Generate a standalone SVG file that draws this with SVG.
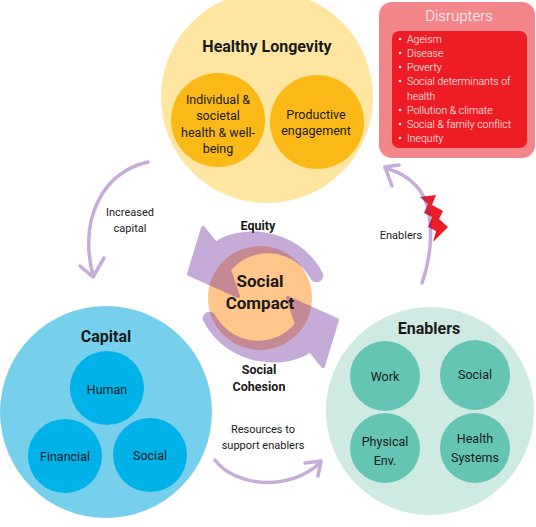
<svg xmlns="http://www.w3.org/2000/svg" width="536" height="527" viewBox="0 0 536 527">
<style>
text{font-family:Roboto,"Liberation Sans",sans-serif;fill:#1a1a1a;text-anchor:middle;dominant-baseline:central}
.title{font-weight:700;font-size:16px}
.mid{font-weight:700;font-size:12.5px}
.big{font-weight:700;font-size:17px}
.lbl{font-size:12.5px}
.small{font-size:11px}
.dis{font-size:10.5px;fill:#fff;text-anchor:start;font-weight:300}
.conn{fill:none;stroke:#7030A0;stroke-opacity:0.4;stroke-width:3.5;stroke-linecap:round;stroke-linejoin:round}
</style>
<rect width="536" height="527" fill="#fff"/>
<g id="healthy-longevity">
<circle cx="267" cy="97" r="106" fill="#FEE6A2"/>
<text class="title" x="267" y="46">Healthy Longevity</text>
<circle cx="218" cy="120" r="47" fill="#FBB917"/>
<text class="lbl" x="218" y="99">Individual &amp;</text>
<text class="lbl" x="218" y="115">societal</text>
<text class="lbl" x="218" y="132">health &amp; well-</text>
<text class="lbl" x="218" y="148">being</text>
<circle cx="317" cy="122" r="47" fill="#FBB917"/>
<text class="lbl" x="316" y="114">Productive</text>
<text class="lbl" x="316" y="130">engagement</text>
</g>
<g id="disrupters">
<rect x="379" y="2" width="156" height="156" rx="13" fill="#F3868A"/>
<text x="459" y="16" style="fill:#fff;font-size:15px;font-weight:300">Disrupters</text>
<rect x="392" y="31" width="135" height="117" rx="7" fill="#EE1C25"/>
<g fill="#fff">
<circle cx="400" cy="39" r="1.2"/><circle cx="400" cy="53" r="1.2"/><circle cx="400" cy="67" r="1.2"/><circle cx="400" cy="81" r="1.2"/><circle cx="400" cy="110" r="1.2"/><circle cx="400" cy="124" r="1.2"/><circle cx="400" cy="138" r="1.2"/>
</g>
<text class="dis" x="407" y="39">Ageism</text>
<text class="dis" x="407" y="53">Disease</text>
<text class="dis" x="407" y="67">Poverty</text>
<text class="dis" x="407" y="81">Social determinants of</text>
<text class="dis" x="407" y="96">health</text>
<text class="dis" x="407" y="110">Pollution &amp; climate</text>
<text class="dis" x="407" y="124">Social &amp; family conflict</text>
<text class="dis" x="407" y="138">Inequity</text>
</g>
<g id="capital">
<circle cx="106" cy="412" r="106" fill="#76CFEB"/>
<text class="title" x="106" y="336">Capital</text>
<circle cx="107" cy="388" r="37" fill="#00B2E7"/>
<text class="lbl" x="107" y="389">Human</text>
<circle cx="65" cy="456" r="37" fill="#00B2E7"/>
<text class="lbl" x="65" y="456">Financial</text>
<circle cx="150" cy="455" r="37" fill="#00B2E7"/>
<text class="lbl" x="150" y="455">Social</text>
</g>
<g id="enablers">
<circle cx="430" cy="411" r="104" fill="#CFEAE2"/>
<text class="title" x="429" y="328">Enablers</text>
<circle cx="385" cy="376" r="35" fill="#65C5B4"/>
<text class="lbl" x="385" y="376">Work</text>
<circle cx="475" cy="375" r="35" fill="#65C5B4"/>
<text class="lbl" x="475" y="374">Social</text>
<circle cx="385" cy="448" r="35" fill="#65C5B4"/>
<text class="lbl" x="385" y="441">Physical</text>
<text class="lbl" x="385" y="460">Env.</text>
<circle cx="475" cy="448" r="35" fill="#65C5B4"/>
<text class="lbl" x="475" y="438">Health</text>
<text class="lbl" x="475" y="457">Systems</text>
</g>
<g id="social-compact">
<circle cx="260" cy="298" r="52" fill="#FFC68C"/>
<g opacity="0.4" fill="#7030A0" stroke="#7030A0" stroke-width="4" stroke-linejoin="round">
<path id="arrow-equity" d="M203,228 L216,244 C235,228 295,225 321,274 A4.5,4.5 0 0 1 312,277 C292,243 248,245 229,270 L238,296 L189,274 Z"/>
<path id="arrow-cohesion" d="M203,228 L216,244 C235,228 295,225 321,274 A4.5,4.5 0 0 1 312,277 C292,243 248,245 229,270 L238,296 L189,274 Z" transform="rotate(180 263 297)"/>
</g>
<text class="big" x="260" y="281">Social</text>
<text class="big" x="260" y="303">Compact</text>
<text class="mid" x="258" y="225">Equity</text>
<text class="mid" x="259" y="369">Social</text>
<text class="mid" x="259" y="386">Cohesion</text>
</g>
<polygon id="disruption-bolt" points="420,197 436,195 432,205 443,211 439,219 448,227 433,242 436,231 428,227 432,217 424,213 428,204" fill="#EE1C25"/>
<g id="connectors">
<path class="conn" d="M148,162 C105,172 78,215 93,276 M80,266 L93,277 L104,258"/>
<path class="conn" d="M422,283 C432,255 434,220 424,197 C415,180 400,172 385,168 M399,165 L385,167 L392,186"/>
<path class="conn" d="M215,460 C235,487 290,492 321,462 M305,463 L321,461 L318,476"/>
<text class="small" x="130" y="212">Increased</text>
<text class="small" x="130" y="228">capital</text>
<text class="small" x="401" y="235">Enablers</text>
<text class="small" x="263" y="429">Resources to</text>
<text class="small" x="263" y="445">support enablers</text>
</g>
</svg>
